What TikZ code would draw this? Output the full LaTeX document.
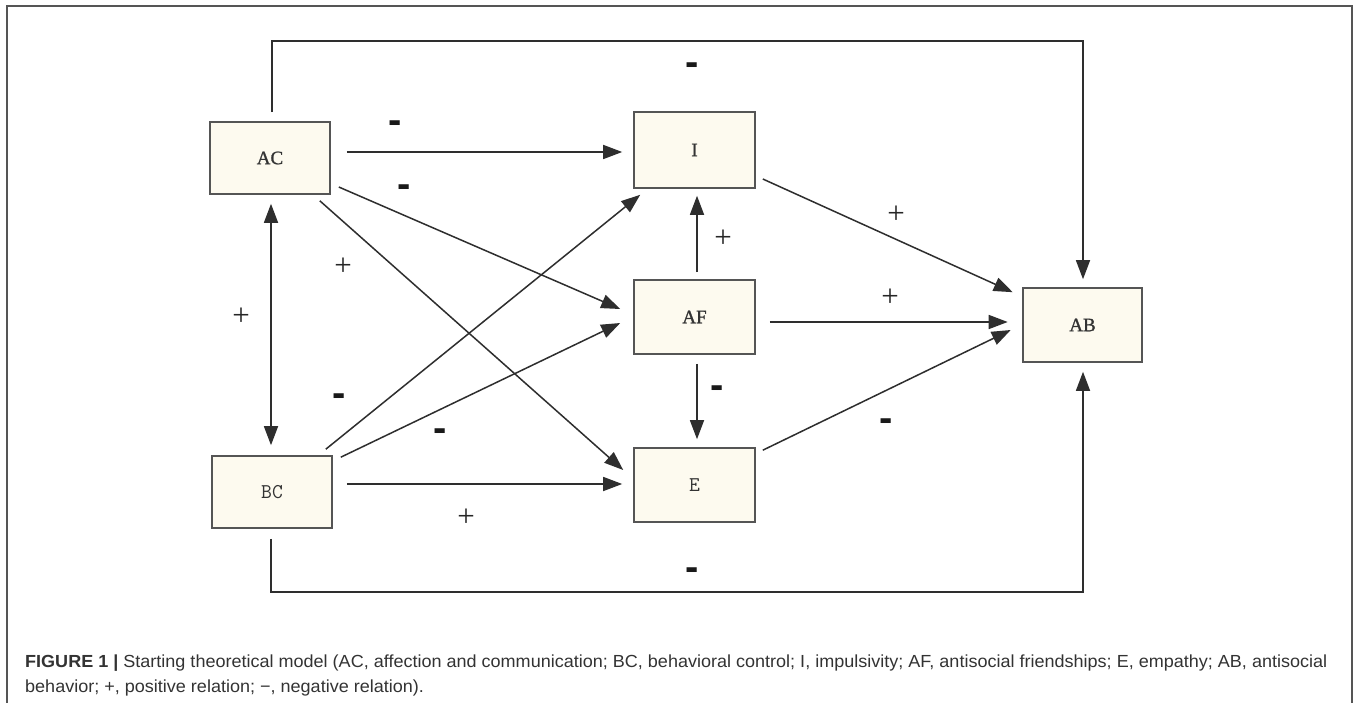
\documentclass[tikz,border=0pt]{standalone}
\usepackage{fontspec}
\setmainfont{Liberation Serif}
\newfontfamily\capfont[FakeStretch=1.03]{Liberation Sans}
\newfontfamily\dashfont{Liberation Sans}
\newfontfamily\labfont[FakeBold=1.2]{Liberation Serif}
\usetikzlibrary{arrows.meta,calc}
\definecolor{boxfill}{HTML}{FDFAEF}
\definecolor{boxline}{HTML}{555555}
\definecolor{linecol}{HTML}{2E2E2E}
\definecolor{captext}{HTML}{333333}
\begin{document}
\begin{tikzpicture}[x=1pt,y=-1pt,
  boxnode/.style={draw=boxline,fill=boxfill,line width=1.6pt,inner sep=0pt,
    minimum width=120pt,minimum height=73pt,font=\labfont\fontsize{19}{19}\selectfont,text=black!80},
  mononode/.style={boxnode,font=\ttfamily\fontsize{21}{21}\selectfont\addfontfeatures{FakeBold=2}},
  conn/.style={draw=linecol,line width=1.5pt,-{Triangle[length=19pt,width=14pt]}},
  bothconn/.style={conn,{Triangle[length=19pt,width=14pt]}-{Triangle[length=19pt,width=14pt]}},
  neglab/.style={font=\dashfont\bfseries\fontsize{40}{40}\selectfont,anchor=base,yshift=-10.8pt,inner sep=0pt,text=black!90},
  poslab/.style={font=\fontsize{31}{31}\selectfont,anchor=center,inner sep=0pt,text=black!85},
  captext/.style={font=\capfont\fontsize{17.5}{17.5}\selectfont,text=captext,anchor=base west,inner sep=0pt}]
\useasboundingbox (0,0) rectangle (1357,703);
\fill[white] (0,0) rectangle (1357,703);
% outer frame
\draw[boxline,line width=1.2pt] (7,703) -- (7,6) -- (1352,6) -- (1352,703);
% boxes
\node[boxnode,minimum width=120pt,minimum height=72pt] (AC) at (270,158) {AC};
\node[boxnode,minimum width=121pt,minimum height=76pt] (I) at (694.5,150) {I};
\node[boxnode,minimum width=121pt,minimum height=74pt] (AF) at (694.5,317) {AF};
\node[mononode,minimum width=121pt,minimum height=74pt] (E) at (694.5,485) {E};
\node[boxnode,minimum width=119pt,minimum height=74pt] (AB) at (1082.5,325) {AB};
\node[mononode,minimum width=120pt,minimum height=72pt] (BC) at (272,492) {BC};
% corner coordinates of the long paths
\coordinate (tl) at (272,41);
\coordinate (tr) at (1083,41);
\coordinate (bl) at (271,592);
\coordinate (br) at (1083,592);
% connectors
\draw[conn] ($(AC.east)+(16,-6)$) -- ($(I.west)+(-11,2)$);
\draw[conn] ($(AC.east)+(8,29)$) -- ($(AF.west)+(-13,-8)$);
\draw[conn] ($(AC.south east)+(-11,6)$) -- ($(E.west)+(-10,-15)$);
\draw[conn] ($(BC.north east)+(-7,-6)$) -- ($(I.south west)+(7,6)$);
\draw[conn] ($(BC.north east)+(8,2)$) -- ($(AF.west)+(-13,6)$);
\draw[conn] ($(BC.east)+(14,-8)$) -- ($(E.west)+(-11,-1)$);
\draw[conn] ($(AF.north)+(2.5,-7)$) -- ($(I.south)+(2.5,7)$);
\draw[conn] ($(AF.south)+(2.5,9)$) -- ($(E.north)+(2.5,-8)$);
\draw[conn] ($(I.east)+(7,29)$) -- ($(AB.north west)+(-9.5,5)$);
\draw[conn] ($(AF.east)+(14,5)$) -- ($(AB.west)+(-14.5,-3)$);
\draw[conn] ($(E.north east)+(7,3)$) -- ($(AB.west)+(-11.5,5)$);
\draw[bothconn] ($(AC.south)+(1,9)$) -- ($(BC.north)+(-1,-10)$);
\draw[conn] ($(AC.north)+(2,-9)$) -- (tl) -- (tr) -- ($(AB.north)+(0.5,-8)$);
\draw[conn] ($(BC.south)+(-1,10)$) -- (bl) -- (br) -- ($(AB.south)+(0.5,9)$);
% labels
\node[neglab] (n1) at (692,65) {-};
\node[neglab] (n2) at (395,123) {-};
\node[neglab] (n3) at (404,187) {-};
\node[neglab] (n4) at (339,396) {-};
\node[neglab] (n5) at (440,431) {-};
\node[neglab] (n6) at (692,570) {-};
\node[neglab] (n7) at (717,388) {-};
\node[neglab] (n8) at (886,421) {-};
\node[poslab] (p1) at (343,267) {+};
\node[poslab] (p2) at (241,317) {+};
\node[poslab] (p3) at (466,518) {+};
\node[poslab] (p4) at (896,215) {+};
\node[poslab] (p5) at (723,239) {+};
\node[poslab] (p6) at (890,298) {+};
% caption
\node[captext] (cap1) at (25,667) {\textbf{FIGURE 1 |} Starting theoretical model (AC, affection and communication; BC, behavioral control; I, impulsivity; AF, antisocial friendships; E, empathy; AB, antisocial};
\node[captext] (cap2) at (25,692) {behavior; +, positive relation; −, negative relation).};
\end{tikzpicture}
\end{document}
